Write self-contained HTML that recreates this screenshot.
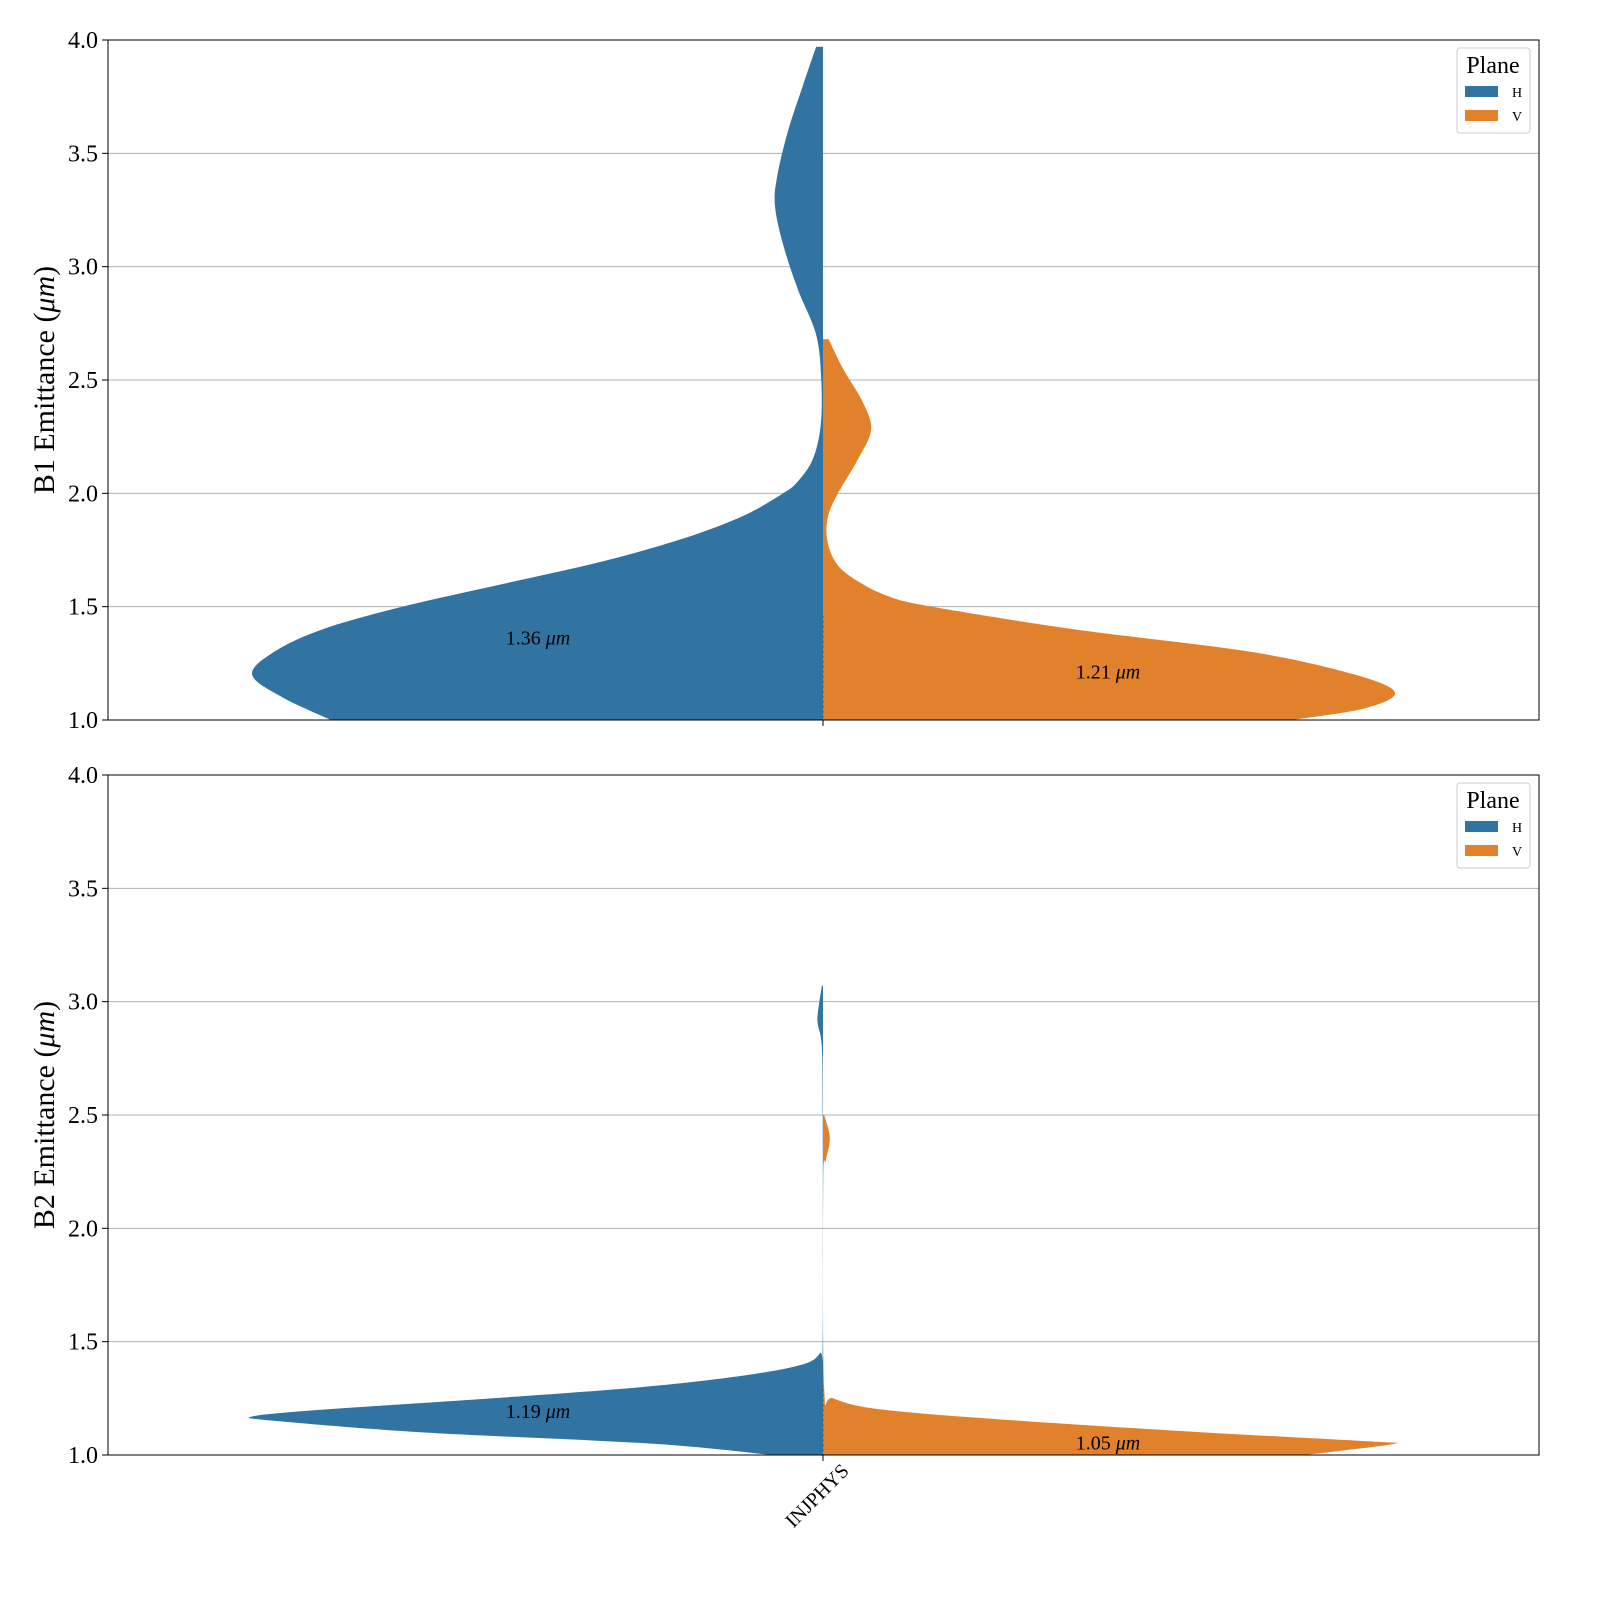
<!DOCTYPE html>
<html><head><meta charset="utf-8"><style>
html,body{margin:0;padding:0;background:#fff}
svg{display:block;font-family:"Liberation Serif",serif}
</style></head><body>
<svg id="c" width="1600" height="1600"></svg>
<script>
// data: [emittance value, relative density half-width (0-1)]
const panelLabels = ["B1", "B2"];
const category = ["INJPHYS"];
const b1H = [[3.97,0.012],[3.8,0.035],[3.6,0.061],[3.4,0.08],[3.27,0.084],[3.1,0.07],[2.9,0.044],[2.7,0.012],[2.5,0.003],[2.3,0.004],[2.15,0.018],[2.05,0.045],[2.0,0.07],[1.9,0.14],[1.8,0.245],[1.7,0.385],[1.6,0.56],[1.5,0.735],[1.4,0.875],[1.3,0.96],[1.2,0.998],[1.1,0.945],[1.0,0.86]];
const b1V = [[2.68,0.01],[2.55,0.035],[2.4,0.07],[2.28,0.084],[2.15,0.061],[2.0,0.026],[1.9,0.009],[1.8,0.007],[1.7,0.021],[1.63,0.05],[1.55,0.11],[1.5,0.19],[1.4,0.44],[1.3,0.75],[1.2,0.93],[1.12,1.0],[1.05,0.945],[1.0,0.82]];
const b2H = [[3.07,0.002],[2.95,0.009],[2.9,0.009],[2.8,0.002],[2.5,0.0005],[1.5,0.0005],[1.45,0.005],[1.4,0.035],[1.35,0.14],[1.3,0.315],[1.25,0.58],[1.2,0.875],[1.17,0.998],[1.15,0.955],[1.1,0.7],[1.05,0.3],[1.0,0.09]];
const b2V = [[2.5,0.002],[2.4,0.012],[2.3,0.005],[2.2,0.0005],[1.3,0.002],[1.25,0.018],[1.2,0.105],[1.15,0.35],[1.1,0.665],[1.06,0.955],[1.05,1.0],[1.02,0.91],[1.0,0.84]];
const medians = [[1.36,1.21],[1.19,1.05]];
const yTicks = [1.0,1.5,2.0,2.5,3.0,3.5,4.0];

const svg = document.getElementById('c');
const NS = 'http://www.w3.org/2000/svg';
function mk(t, a, p){const e=document.createElementNS(NS,t);for(const k in a)e.setAttribute(k,a[k]);(p||svg).appendChild(e);return e;}
const X0=108, X1=1539, CX=823, MAXW=572;
const panels=[{top:40,bot:720,H:b1H,V:b1V},{top:775,bot:1455,H:b2H,V:b2V}];
function smooth(pts){
  let d='';
  for(let i=0;i<pts.length-1;i++){
    const p0=pts[Math.max(0,i-1)],p1=pts[i],p2=pts[i+1],p3=pts[Math.min(pts.length-1,i+2)];
    const c1=[p1[0]+(p2[0]-p0[0])/6,p1[1]+(p2[1]-p0[1])/6];
    const c2=[p2[0]-(p3[0]-p1[0])/6,p2[1]-(p3[1]-p1[1])/6];
    d+=' C'+c1[0]+','+c1[1]+' '+c2[0]+','+c2[1]+' '+p2[0]+','+p2[1];
  }
  return d;
}
panels.forEach((p,i)=>{
  const y=v=>p.bot-(v-1)/3*(p.bot-p.top);
  const g=mk('g',{});
  
  
  yTicks.forEach(t=>{
    if(t>1&&t<4){const l=mk('line',{x1:X0,x2:X1,y1:y(t),y2:y(t),stroke:'#b0b0b0','stroke-width':1},g);
      }
    mk('line',{x1:X0-6,x2:X0,y1:y(t),y2:y(t),stroke:'#000'},g);
    const tx=mk('text',{x:X0-10,y:y(t)+8,'text-anchor':'end','font-size':24},g);
    tx.textContent=t.toFixed(1);
    
  });
  function violin(arr,side,color,name){
    const pts=arr.map(([v,w])=>[CX+side*w*MAXW,y(v)]);
    let d='M'+CX+','+pts[0][1]+' L'+pts[0][0]+','+pts[0][1]+smooth(pts);
    d+=' L'+CX+','+pts[pts.length-1][1]+' Z';
    const pa=mk('path',{d:d,fill:color},g);
    
  }
  violin(p.H,-1,'#3274a1','violin-h');
  violin(p.V,1,'#e1812c','violin-v');
  mk('line',{x1:CX,x2:CX,y1:y(medians[i][0]+0.1),y2:p.bot,stroke:'#555','stroke-width':1,'stroke-dasharray':'2,3'},g);
  const m1=mk('text',{x:CX-285,y:y(medians[i][0])+6,'text-anchor':'middle','font-size':20},g);
  m1.innerHTML=medians[i][0].toFixed(2)+' <tspan font-style="italic">μm</tspan>';
  
  const m2=mk('text',{x:CX+285,y:y(medians[i][1])+6,'text-anchor':'middle','font-size':20},g);
  m2.innerHTML=medians[i][1].toFixed(2)+' <tspan font-style="italic">μm</tspan>';
  
  const fr=mk('rect',{x:X0,y:p.top,width:X1-X0,height:p.bot-p.top,fill:'none',stroke:'#000','stroke-width':1},g);
  
  mk('line',{x1:CX,x2:CX,y1:p.bot,y2:p.bot+6,stroke:'#000'},g);
  const yt=mk('text',{transform:'translate(54,'+((p.top+p.bot)/2)+') rotate(-90)','text-anchor':'middle','font-size':30},g);
  yt.innerHTML=panelLabels[i]+' Emittance (<tspan font-style="italic">μm</tspan>)';
  
  const lg=mk('g',{},g);
  
  const ly=p.top+8;
  mk('rect',{x:1457,y:ly,width:73,height:85,rx:3,fill:'#fff',stroke:'#ccc'},lg);
  const lt=mk('text',{x:1493,y:ly+25,'text-anchor':'middle','font-size':24},lg);lt.textContent='Plane';
  
  [['H','#3274a1'],['V','#e1812c']].forEach(([n,c],k)=>{
    const e=mk('g',{},lg);
    
    mk('rect',{x:1465,y:ly+38+k*24,width:33,height:11,fill:c},e);
    const t=mk('text',{x:1512,y:ly+49+k*24,'font-size':14},e);t.textContent=n;
  });
});
const xl=mk('text',{transform:'translate(850,1472) rotate(-45)','text-anchor':'end','font-size':20});
xl.textContent=category[0];

</script>
</body></html>
